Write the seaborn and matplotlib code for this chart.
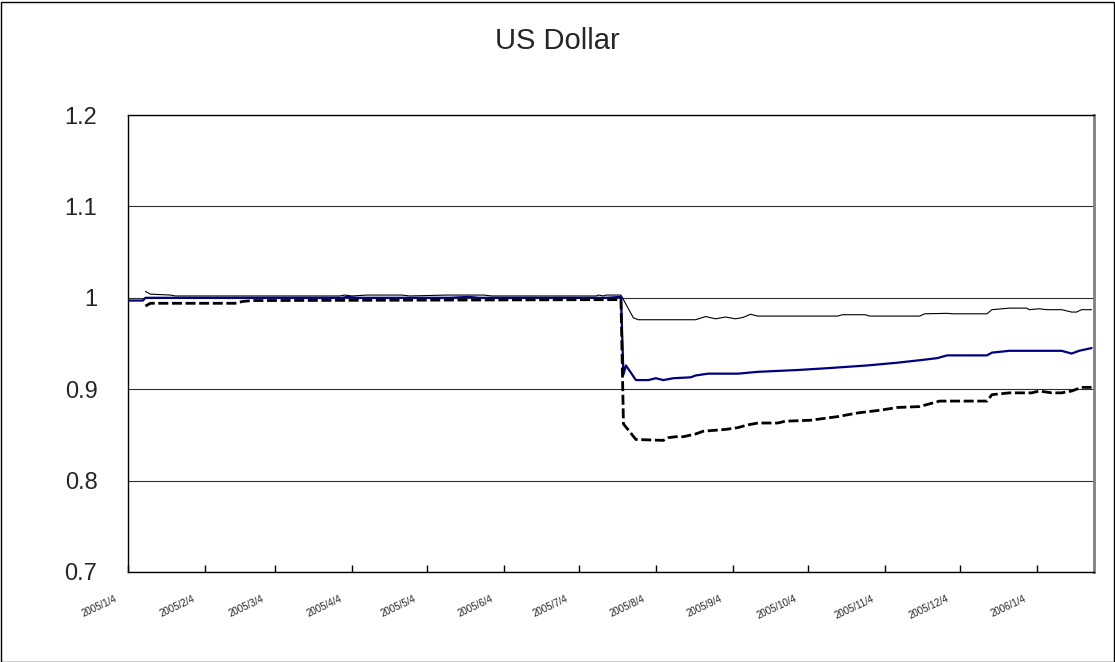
import pandas as pd
import matplotlib
matplotlib.use('Agg')
import matplotlib.pyplot as plt
import matplotlib.transforms as mtransforms
from matplotlib.patches import Rectangle
import seaborn as sns

# --- DATA ---
title = 'US Dollar'

# thin black solid line
a_dates = ['2005-01-11', '2005-01-13', '2005-01-21', '2005-01-23',
           '2005-03-30', '2005-04-01', '2005-04-04', '2005-04-10', '2005-04-24', '2005-04-27',
           '2005-05-12', '2005-05-27', '2005-05-30', '2005-07-11', '2005-07-12', '2005-07-14',
           '2005-07-15', '2005-07-21', '2005-07-26', '2005-07-28', '2005-08-20', '2005-08-24',
           '2005-08-28', '2005-09-01', '2005-09-05', '2005-09-08', '2005-09-11', '2005-09-14',
           '2005-10-16', '2005-10-18', '2005-10-27', '2005-10-29', '2005-11-18', '2005-11-20',
           '2005-11-29', '2005-12-01', '2005-12-15', '2005-12-17', '2005-12-24', '2005-12-31',
           '2006-01-01', '2006-01-05', '2006-01-08', '2006-01-14', '2006-01-18', '2006-01-20',
           '2006-01-22', '2006-01-26']
a_values = [1.007, 1.004, 1.003, 1.002,
            1.002, 1.003, 1.002, 1.003, 1.003, 1.002,
            1.003, 1.003, 1.002, 1.002, 1.003, 1.002,
            1.003, 1.003, 0.978, 0.976, 0.976, 0.9795,
            0.977, 0.979, 0.977, 0.9785, 0.982, 0.980,
            0.980, 0.9815, 0.9815, 0.980, 0.980, 0.9825,
            0.983, 0.9825, 0.9825, 0.987, 0.9887, 0.9887,
            0.987, 0.988, 0.987, 0.987, 0.9844, 0.9844,
            0.987, 0.987]

# navy solid line
b_dates = ['2005-01-04', '2005-01-10', '2005-01-11', '2005-03-31', '2005-04-02', '2005-04-06',
           '2005-05-13', '2005-05-21', '2005-05-25', '2005-07-15', '2005-07-21', '2005-07-22',
           '2005-07-23', '2005-07-27', '2005-08-01', '2005-08-04', '2005-08-07', '2005-08-11',
           '2005-08-18', '2005-08-20', '2005-08-25', '2005-09-06', '2005-09-14', '2005-09-30',
           '2005-10-12', '2005-10-28', '2005-11-09', '2005-11-19', '2005-11-25', '2005-11-29',
           '2005-12-15', '2005-12-17', '2005-12-24', '2006-01-14', '2006-01-18', '2006-01-21',
           '2006-01-26']
b_values = [0.997, 0.997, 1.000, 1.000, 1.001, 1.000,
            1.000, 1.001, 1.000, 1.000, 1.001, 0.916,
            0.926, 0.910, 0.910, 0.912, 0.910, 0.912,
            0.913, 0.915, 0.917, 0.917, 0.919, 0.921,
            0.923, 0.926, 0.929, 0.932, 0.934, 0.937,
            0.937, 0.940, 0.942, 0.942, 0.939, 0.942,
            0.945]

# thick black dashed line
c_dates = ['2005-01-11', '2005-01-13', '2005-02-16', '2005-02-19', '2005-02-23', '2005-02-27',
           '2005-07-21', '2005-07-22', '2005-07-27', '2005-08-07', '2005-08-09', '2005-08-12',
           '2005-08-15', '2005-08-20', '2005-08-23', '2005-09-01', '2005-09-06', '2005-09-10',
           '2005-09-14', '2005-09-22', '2005-09-25', '2005-10-05', '2005-10-16', '2005-10-24',
           '2005-11-02', '2005-11-09', '2005-11-18', '2005-11-22', '2005-11-26', '2005-12-15',
           '2005-12-17', '2005-12-24', '2006-01-02', '2006-01-05', '2006-01-10', '2006-01-14',
           '2006-01-18', '2006-01-22', '2006-01-26']
c_values = [0.991, 0.994, 0.994, 0.996, 0.997, 0.997,
            0.998, 0.862, 0.845, 0.844, 0.847, 0.848,
            0.848, 0.851, 0.854, 0.856, 0.858, 0.861,
            0.863, 0.863, 0.865, 0.866, 0.870, 0.874,
            0.877, 0.880, 0.881, 0.884, 0.887, 0.887,
            0.894, 0.896, 0.896, 0.898, 0.896, 0.896,
            0.898, 0.902, 0.902]

tick_dates = ['2005-01-04', '2005-02-04', '2005-03-04', '2005-04-04', '2005-05-04', '2005-06-04',
              '2005-07-04', '2005-08-04', '2005-09-04', '2005-10-04', '2005-11-04', '2005-12-04',
              '2006-01-04']
tick_labels = ['2005/1/4', '2005/2/4', '2005/3/4', '2005/4/4', '2005/5/4', '2005/6/4',
               '2005/7/4', '2005/8/4', '2005/9/4', '2005/10/4', '2005/11/4', '2005/12/4',
               '2006/1/4']
y_ticks = [0.7, 0.8, 0.9, 1.0, 1.1, 1.2]

# --- STYLE ---
sns.set_style('white')
plt.rcParams['font.family'] = ['Liberation Sans', 'DejaVu Sans']

W, H = 1115, 662
fig = plt.figure(figsize=(W / 100, H / 100), dpi=100)
ax = fig.add_axes([128 / W, 1 - 572 / H, (1094 - 128) / W, (572 - 115) / H])

# --- LINES ---
sns.lineplot(x=pd.to_datetime(a_dates), y=a_values, ax=ax, color='black',
             linewidth=0.8, estimator=None)
sns.lineplot(x=pd.to_datetime(b_dates), y=b_values, ax=ax, color='#000080',
             linewidth=1.6, estimator=None)
sns.lineplot(x=pd.to_datetime(c_dates), y=c_values, ax=ax, color='black',
             linewidth=2.0, estimator=None, linestyle=(0, (3.6, 1.3)))

# --- AXES ---
ax.set_ylim(0.7, 1.2)
ax.set_yticks(y_ticks)
ax.set_yticklabels([f'{v:g}' for v in y_ticks])
ax.set_xlim(pd.Timestamp('2005-01-04'), pd.Timestamp('2006-01-27'))
ax.set_xticks(pd.to_datetime(tick_dates))
ax.set_xticklabels(tick_labels)
ax.set_xlabel('')
ax.set_ylabel('')

ax.grid(axis='y', color='#303030', linewidth=0.8)
ax.grid(axis='x', visible=False)
ax.set_axisbelow(True)

for side in ['left', 'bottom', 'top']:
    ax.spines[side].set_color('black')
    ax.spines[side].set_linewidth(1.0)
ax.spines['right'].set_color('#808080')
ax.spines['right'].set_linewidth(2.0)

ax.tick_params(axis='y', length=0, pad=22, labelsize=17)
ax.tick_params(axis='x', direction='in', length=5, width=1, color='black',
               pad=19, labelsize=7, bottom=True)

shift = mtransforms.ScaledTranslation(-11 / 100, 0, fig.dpi_scale_trans)
for lab in ax.get_xticklabels():
    lab.set_rotation(25)
    lab.set_ha('right')
    lab.set_va('center')
    lab.set_rotation_mode('anchor')
    lab.set_transform(lab.get_transform() + shift)

fig.text(557 / W, 1 - 41 / H, title, ha='center', va='center', fontsize=21)

# outer chart border
fig.patches.append(Rectangle((0.5 / W, 0.5 / H), 1 - 2 / W, 1 - 2 / H,
                             transform=fig.transFigure, fill=False,
                             edgecolor='black', linewidth=1.0))

fig.savefig('out.png', dpi=100)
